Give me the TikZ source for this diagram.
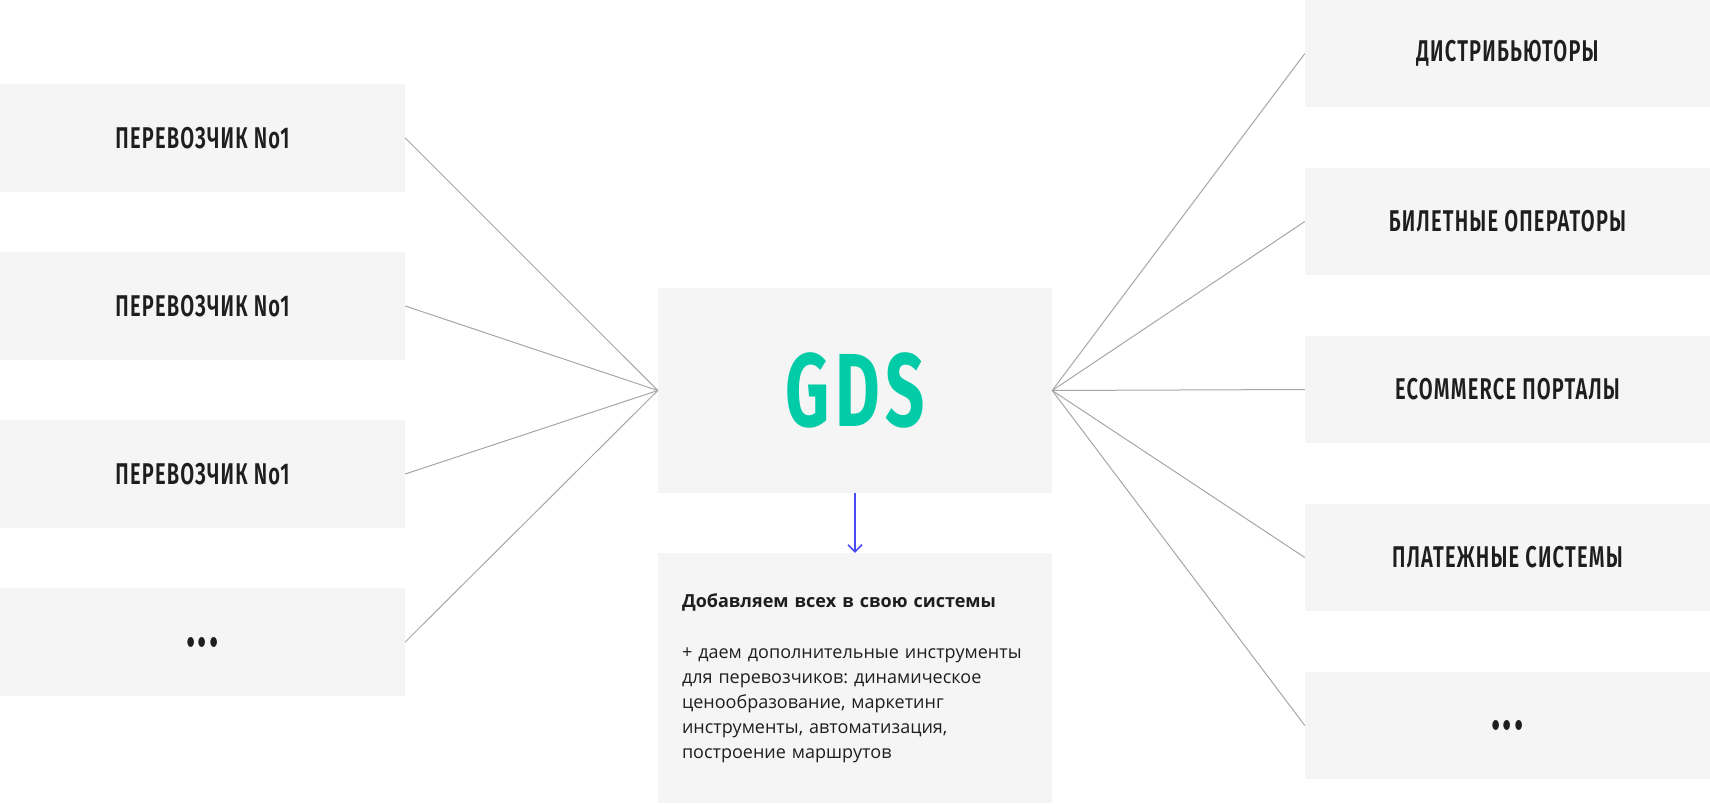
\documentclass[tikz,border=0pt]{standalone}
\usepackage{fontspec}
\setmainfont{Open Sans}
\newfontfamily\capsfont[FakeStretch=0.67, LetterSpace=4]{Fira Sans SemiBold}
\newfontfamily\hubfont[FakeStretch=0.66, LetterSpace=5]{Fira Sans Bold}
\usetikzlibrary{arrows.meta}
\definecolor{boxgray}{HTML}{F5F5F5}
\definecolor{linkgray}{HTML}{A6A6A6}
\definecolor{gdsgreen}{RGB}{2,203,168}
\definecolor{arrowblue}{RGB}{74,74,245}
\definecolor{textdark}{HTML}{1E1E1E}
\tikzset{
	sidebox/.style={fill=boxgray, inner sep=0pt, minimum width=405pt, minimum height=108pt, text=textdark, font=\capsfont\fontsize{30}{36}\selectfont},
	dotsbox/.style={sidebox, font=\capsfont\fontsize{58}{60}\selectfont},
	hubbox/.style={fill=boxgray, inner sep=0pt, minimum width=394pt, minimum height=205pt, text=gdsgreen, font=\hubfont\fontsize{104}{110}\selectfont},
	notebox/.style={fill=boxgray, inner xsep=24pt, inner ysep=0pt, text width=346pt, minimum height=250pt, align=left, text=textdark, font=\frenchspacing\fontsize{18}{25}\selectfont},
	link/.style={draw=linkgray, line width=1pt},
}

\begin{document}
\begin{tikzpicture}[x=1pt, y=-1pt]
			%%%%% START %%%%%
			\useasboundingbox (0, 0) rectangle (1710, 805);
			
			\node[sidebox] (car1) at (202.5, 138) {ПЕРЕВОЗЧИК No1};
			\node[sidebox] (car2) at (202.5, 306) {ПЕРЕВОЗЧИК No1};
			\node[sidebox] (car3) at (202.5, 474) {ПЕРЕВОЗЧИК No1};
			\node[dotsbox] (car4) at (202.5, 642) {...};
			
			\node[hubbox] (gds) at (855, 390.5) {GDS};
			\node[notebox] (note) at (855, 678) {\textbf{Добавляем всех в свою системы}\\[26pt]
				+ даем дополнительные инструменты\\
				для перевозчиков: динамическое\\
				ценообразование, маркетинг\\
				инструменты, автоматизация,\\
				построение маршрутов};
			
			\node[sidebox, minimum height=107pt] (dist) at (1507.5, 53.5) {ДИСТРИБЬЮТОРЫ};
			\node[sidebox, minimum height=107pt] (tick) at (1507.5, 221.5) {БИЛЕТНЫЕ ОПЕРАТОРЫ};
			\node[sidebox, minimum height=107pt] (ecom) at (1507.5, 389.5) {ECOMMERCE ПОРТАЛЫ};
			\node[sidebox, minimum height=107pt] (pay) at (1507.5, 557.5) {ПЛАТЕЖНЫЕ СИСТЕМЫ};
			\node[dotsbox, minimum height=107pt] (more) at (1507.5, 725.5) {...};
			
			\draw[link] (car1.east) -- (gds.west);
			\draw[link] (car2.east) -- (gds.west);
			\draw[link] (car3.east) -- (gds.west);
			\draw[link] (car4.east) -- (gds.west);
			
			\draw[link] (gds.east) -- (dist.west);
			\draw[link] (gds.east) -- (tick.west);
			\draw[link] (gds.east) -- (ecom.west);
			\draw[link] (gds.east) -- (pay.west);
			\draw[link] (gds.east) -- (more.west);
			
			\draw[arrowblue, line width=1.5pt, -{Straight Barb[length=7pt, width=14pt]}] (gds.south) -- (note.north);
			%%%%% END %%%%%
\end{tikzpicture}
\end{document}
